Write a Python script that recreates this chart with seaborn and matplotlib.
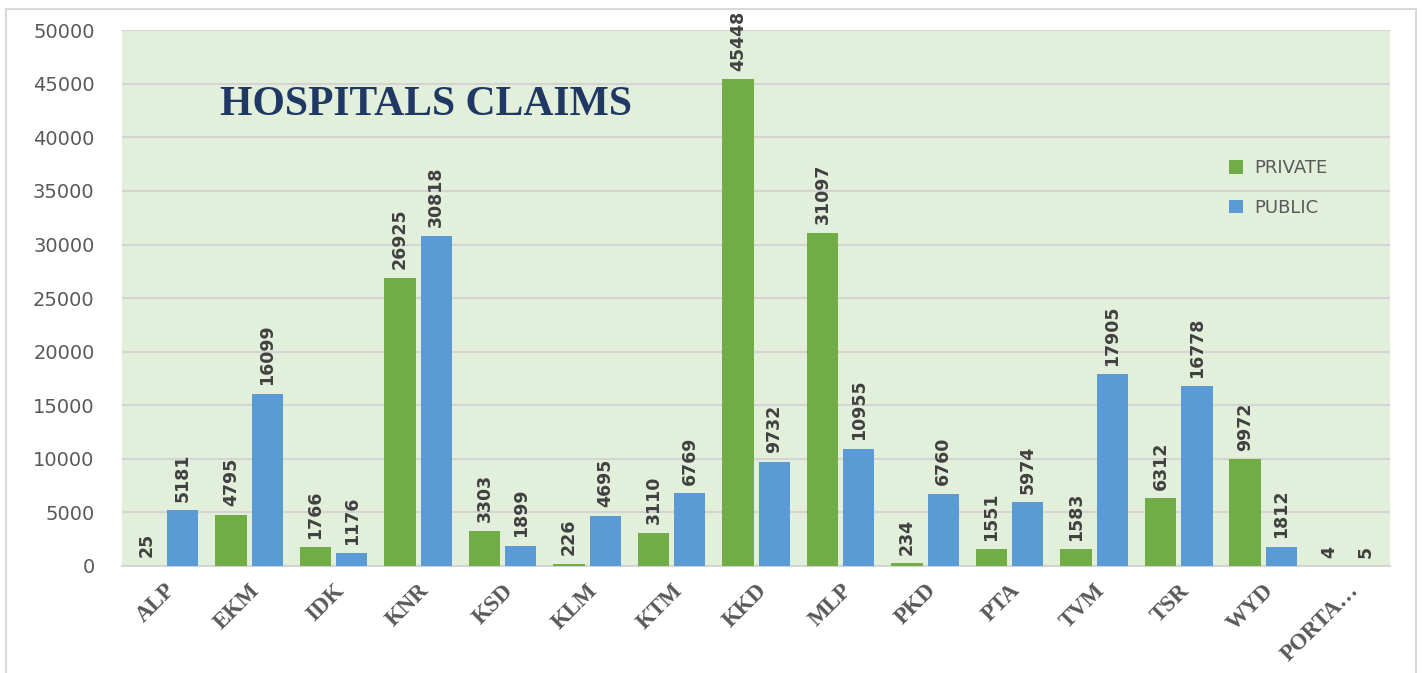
import pandas as pd
import matplotlib.pyplot as plt
import matplotlib.patches as mpatches
import seaborn as sns

# data
districts = ['ALP', 'EKM', 'IDK', 'KNR', 'KSD', 'KLM', 'KTM', 'KKD',
             'MLP', 'PKD', 'PTA', 'TVM', 'TSR', 'WYD', 'PORTA…']
private = [25, 4795, 1766, 26925, 3303, 226, 3110, 45448,
           31097, 234, 1551, 1583, 6312, 9972, 4]
public = [5181, 16099, 1176, 30818, 1899, 4695, 6769, 9732,
          10955, 6760, 5974, 17905, 16778, 1812, 5]

df = pd.DataFrame({
    'district': districts * 2,
    'claims': private + public,
    'type': ['PRIVATE'] * len(districts) + ['PUBLIC'] * len(districts),
})

sns.set_style('white')
plt.rcParams['font.family'] = ['DejaVu Sans']

fig = plt.figure(figsize=(14.22, 6.73), dpi=100)
ax = fig.add_axes([0.086, 0.159, 0.8915, 0.796])

sns.barplot(data=df, x='district', y='claims', hue='type',
            palette={'PRIVATE': '#70AD47', 'PUBLIC': '#5B9BD5'},
            saturation=1, linewidth=0,
            width=0.86, gap=0.14, ax=ax, zorder=3)

ax.set_facecolor('#E2EFDA')
ax.set_ylim(0, 50000)
ax.set_yticks(range(0, 50001, 5000))
ax.grid(axis='y', color='#D4D4D4', linewidth=1.5, zorder=0)
ax.set_axisbelow(True)
for side in ['top', 'right', 'left']:
    ax.spines[side].set_visible(False)
ax.spines['bottom'].set_color('#D4D4D4')
ax.spines['bottom'].set_linewidth(1.5)
ax.set_xlabel('')
ax.set_ylabel('')
ax.tick_params(axis='y', labelsize=14, colors='#595959', length=0, pad=20)
ax.tick_params(axis='x', length=0, pad=10)
plt.setp(ax.get_xticklabels(), rotation=45, ha='right', rotation_mode='anchor',
         family='Liberation Serif', fontweight='bold', fontsize=16.5, color='#595959')

# value labels above every bar
for cont in ax.containers:
    ax.bar_label(cont, rotation=90, padding=6, fontsize=12.5,
                 fontweight='bold', color='#404040')

ax.text(0.077, 0.86, 'HOSPITALS CLAIMS', transform=ax.transAxes,
        family='Liberation Serif', fontweight='bold', fontsize=30,
        color='#1F3864', va='center', ha='left')

leg = ax.legend(loc='upper left', bbox_to_anchor=(0.86, 0.79), frameon=False,
                fontsize=13, handlelength=0.8, handleheight=0.8,
                labelspacing=1.2, handletextpad=0.6)
for t in leg.get_texts():
    t.set_color('#595959')

# light border around the chart area
fig.patches.append(mpatches.Rectangle((0.004, -0.01), 0.992, 0.996,
                                      transform=fig.transFigure, fill=False,
                                      edgecolor='#D9D9D9', linewidth=1.5))

fig.savefig('out.png', dpi=100)
